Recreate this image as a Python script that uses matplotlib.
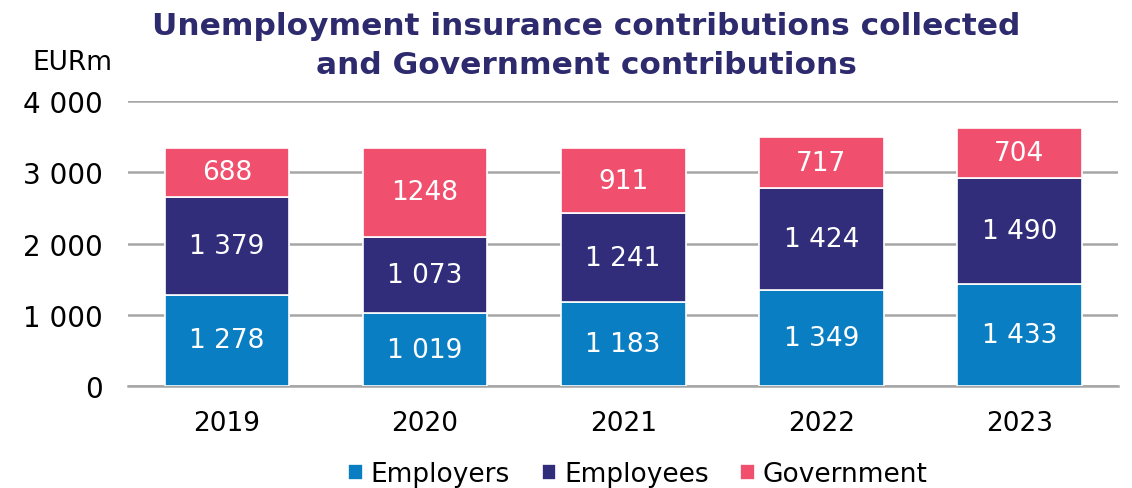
import numpy as np
import matplotlib.pyplot as plt

years = ['2019', '2020', '2021', '2022', '2023']
employers = [1278, 1019, 1183, 1349, 1433]
employees = [1379, 1073, 1241, 1424, 1490]
government = [688, 1248, 911, 717, 704]

series = [('Employers', employers, '#0A7EC2'),
          ('Employees', employees, '#312D7A'),
          ('Government', government, '#F0506E')]

def fmt_space(v):
    return '{:,}'.format(v).replace(',', ' ')

plt.rcParams['font.family'] = ['DejaVu Sans']
fs = 19

fig = plt.figure(figsize=(11.32, 4.89), dpi=100)
ax = fig.add_axes([0.113, 0.2086, 0.875, 0.5828])

x = np.arange(len(years))
bottom = np.zeros(len(years))
for name, vals, col in series:
    vals = np.array(vals)
    ax.bar(x, vals, 0.63, bottom=bottom, color=col, edgecolor='white',
           linewidth=1.2, label=name, zorder=3)
    for xi, b, v in zip(x, bottom, vals):
        s = str(v) if name == 'Government' else fmt_space(v)
        ax.text(xi, b + v / 2, s, ha='center', va='center', color='white',
                fontsize=fs, zorder=4)
    bottom += vals

ax.set_xlim(-0.5, len(years) - 0.5)
ax.set_ylim(0, 4000)
ax.set_yticks(range(0, 4001, 1000))
ax.set_yticklabels([fmt_space(v) for v in range(0, 4001, 1000)], fontsize=20)
ax.set_xticks(x)
ax.set_xticklabels(years, fontsize=fs)
ax.tick_params(axis='y', length=0, pad=18)
ax.tick_params(axis='x', length=0, pad=17)
ax.grid(axis='y', color='#A6A6A6', linewidth=1.8, zorder=0)
for sp in ['top', 'right', 'left']:
    ax.spines[sp].set_visible(False)
ax.spines['bottom'].set_color('#A6A6A6')
ax.spines['bottom'].set_linewidth(1.8)

fig.text(0.518, 0.906, 'Unemployment insurance contributions collected\nand Government contributions',
         ha='center', va='center', fontsize=22.5, fontweight='bold', color='#2E2A6E',
         linespacing=1.42)
fig.text(0.029, 0.872, 'EURm', ha='left', va='center', fontsize=fs)

ax.legend(loc='center', bbox_to_anchor=(0.515, -0.31), ncol=3, frameon=False,
          fontsize=fs, handlelength=0.55, handleheight=0.55, handletextpad=0.3,
          columnspacing=1.2)

fig.savefig('out.png', dpi=100)
